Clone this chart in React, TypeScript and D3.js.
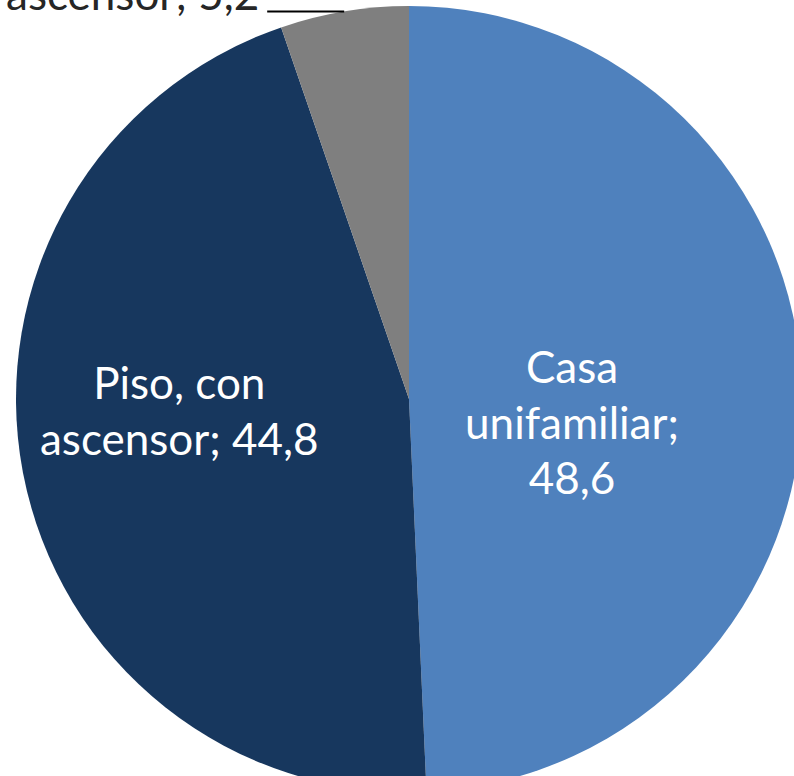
import React from 'react';
import * as d3 from 'd3';

const categories = ['Casa unifamiliar', 'Piso, con ascensor', 'Piso, sin ascensor'];
const values = [48.6, 44.8, 5.2];
const labelLines = [
  ['Casa', 'unifamiliar;', '48,6'],
  ['Piso, con', 'ascensor; 44,8'],
  ['Piso, sin', 'ascensor; 5,2'],
];
const colors = ['#4F81BD', '#17375E', '#7F7F7F'];

const W = 794;
const H = 776;
const cx = 409;
const cy = 399;
const R = 393;
const FONT = 'Lato, "Open Sans", sans-serif';
const FS = 44;
const LH = 55.5;

// styling for inside label placement (radius fraction, vertical shift)
const insideLabel = [
  { rf: 0.415, shift: 28 },
  { rf: 0.595, shift: -31 },
];

export default function App() {
  const pieData = d3
    .pie<number>()
    .sort(null)
    .value((d) => d)(values);
  const arc = d3.arc<d3.PieArcDatum<number>>().innerRadius(0).outerRadius(R);

  return (
    <svg
      width={W}
      height={H}
      style={{ position: 'absolute', left: 0, top: 0, background: '#fff' }}
      fontFamily={FONT}
    >
      <g transform={`translate(${cx},${cy})`}>
        {pieData.map((d, i) => (
          <path key={categories[i]} d={arc(d) || ''} fill={colors[i]} />
        ))}
        {pieData.map((d, i) => {
          const lines = labelLines[i];
          if (i < 2) {
            const rr = R * insideLabel[i].rf;
            const lab = d3.arc<d3.PieArcDatum<number>>().innerRadius(rr).outerRadius(rr);
            const [x, y] = lab.centroid(d);
            const y0 = y + insideLabel[i].shift - ((lines.length - 1) * LH) / 2 + FS * 0.35;
            return (
              <text key={'l' + i} x={x} y={y0} textAnchor="middle" fill="#FFFFFF" fontSize={FS}>
                {lines.map((t, j) => (
                  <tspan key={j} x={x} y={y0 + j * LH}>
                    {t}
                  </tspan>
                ))}
              </text>
            );
          }
          // outside label with leader line
          const mid = (d.startAngle + d.endAngle) / 2;
          const ex = R * Math.sin(mid);
          const ey = -R * Math.cos(mid);
          const sx = ex - 77;
          const tx = sx - 8;
          const ty = ey - 1;
          return (
            <g key={'l' + i}>
              <line x1={sx} y1={ey} x2={ex} y2={ey} stroke="#000" strokeWidth={2} />
              <text x={tx} y={ty} textAnchor="end" fill="#262626" fontSize={FS}>
                {lines.map((t, j) => (
                  <tspan key={j} x={tx} y={ty - (lines.length - 1 - j) * LH}>
                    {t}
                  </tspan>
                ))}
              </text>
            </g>
          );
        })}
      </g>
    </svg>
  );
}
